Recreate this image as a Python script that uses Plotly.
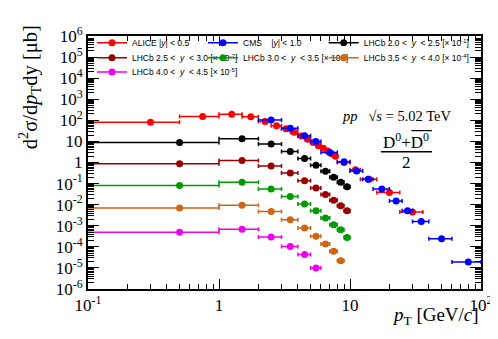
import plotly.graph_objects as go

# ALICE |y|<0.5  (pT bin centre, bin edges, cross section in ub)
alice_pt = [0.3, 0.75, 1.25, 1.75, 2.25, 2.75, 3.25, 3.75, 4.25, 4.75, 5.25,
            5.75, 6.25, 6.75, 7.25, 7.75, 9, 11, 14, 20, 30]
alice_lo = [0, 0.5, 1, 1.5, 2, 2.5, 3, 3.5, 4, 4.5, 5, 5.5, 6, 6.5, 7, 7.5,
            8, 10, 12, 16, 24]
alice_hi = [0.5, 1, 1.5, 2, 2.5, 3, 3.5, 4, 4.5, 5, 5.5, 6, 6.5, 7, 7.5, 8,
            10, 12, 16, 24, 36]
alice_xs = [82, 153, 195, 148, 89, 56, 40, 27.5, 18.2, 12.6, 8.9, 6.3, 4.7,
            3.5, 2.6, 2.0, 1.0, 0.45, 0.16, 0.038, 0.0045]

# CMS |y|<1.0
cms_pt = [2.5, 3.5, 4.5, 5.5, 7, 9, 11.25, 13.75, 17.5, 22.5, 27.5, 35, 50, 80]
cms_lo = [2, 3, 4, 5, 6, 8, 10, 12.5, 15, 20, 25, 30, 40, 60]
cms_hi = [3, 4, 5, 6, 8, 10, 12.5, 15, 20, 25, 30, 40, 60, 100]
cms_xs = [105, 42, 18.6, 10, 3.0, 1.1, 0.40, 0.16, 0.056, 0.015, 0.0051,
          0.0016, 0.00024, 0.000019]

# LHCb rapidity bins, 1 GeV/c wide pT bins starting at 0 (unscaled)
lhcb_pt = [0.5, 1.5, 2.5, 3.5, 4.5, 5.5, 6.5, 7.5, 8.5, 9.5]
lhcb_y20 = [89, 135, 76, 33, 15.5, 7.4, 3.8, 2.0, 1.17, 0.71]
lhcb_y25 = [87, 126, 69, 32, 13.5, 6.2, 3.0, 1.6, 0.89, 0.51]
lhcb_y30 = [81, 115, 56, 24.5, 10.7, 5.1, 2.3, 1.12, 0.65, 0.28]
lhcb_y35 = [69, 93, 48, 19, 7.8, 3.2, 1.35, 0.62, 0.22]
lhcb_y40 = [49, 69, 29, 10.5, 4.3, 1.0]

series = [
    ("ALICE |<i>y</i>| &lt; 0.5", "#ff0000", alice_pt, alice_lo, alice_hi, alice_xs, 1),
    ("CMS    |<i>y</i>| &lt; 1.0", "#0000ff", cms_pt, cms_lo, cms_hi, cms_xs, 1),
    ("LHCb 2.0 &lt;  <i>y</i>  &lt; 2.5 [× 10<sup>-1</sup>]", "#000000",
     lhcb_pt, None, None, lhcb_y20, 1e-1),
    ("LHCb 2.5 &lt;  <i>y</i>  &lt; 3.0 [× 10<sup>-2</sup>]", "#990000",
     lhcb_pt, None, None, lhcb_y25, 1e-2),
    ("LHCb 3.0 &lt;  <i>y</i>  &lt; 3.5 [× 10<sup>-3</sup>]", "#009900",
     lhcb_pt, None, None, lhcb_y30, 1e-3),
    ("LHCb 3.5 &lt;  <i>y</i>  &lt; 4.0 [× 10<sup>-4</sup>]", "#cc6611",
     lhcb_pt, None, None, lhcb_y35, 1e-4),
    ("LHCb 4.0 &lt;  <i>y</i>  &lt; 4.5 [× 10<sup>-5</sup>]", "#ee00ee",
     lhcb_pt, None, None, lhcb_y40, 1e-5),
]

# legend grid: 3 columns x 3 rows (paper coords)
leg_cols = [0.0102, 0.2926, 0.5997]
leg_rows = [0.973, 0.914, 0.858]

fig = go.Figure()
for i, (name, col, pt, lo, hi, xs, scale) in enumerate(series):
    n = len(xs)
    pt = pt[:n]
    if lo is None:
        lo = [p - 0.5 for p in pt]
        hi = [p + 0.5 for p in pt]
    lo = [max(v, 0.01) for v in lo]
    y = [v * scale for v in xs]
    fig.add_trace(go.Scatter(
        x=pt, y=y, mode='markers', showlegend=False,
        marker=dict(color=col, size=7),
        error_x=dict(type='data', symmetric=False,
                     array=[h - p for h, p in zip(hi, pt)],
                     arrayminus=[p - l for p, l in zip(pt, lo)],
                     color=col, thickness=1.5, width=2),
        error_y=dict(type='percent', value=8, color=col, thickness=1.2, width=2)))
    # each legend entry gets its own legend box so it can sit on the grid
    leg = "legend" if i == 0 else "legend%d" % (i + 1)
    fig.add_trace(go.Scatter(
        x=[None], y=[None], mode='lines+markers', name=name, legend=leg,
        marker=dict(color=col, size=7), line=dict(color=col, width=1.5)))
    fig.update_layout({leg: dict(
        x=leg_cols[i % 3], y=leg_rows[i // 3], xanchor='left', yanchor='middle',
        itemwidth=30, bgcolor='rgba(0,0,0,0)', borderwidth=0,
        font=dict(family="Liberation Sans", size=8.5, color='black'))})

minor_x = [m * 10 ** k for k in range(-1, 2) for m in range(2, 10)]
minor_y = [m * 10 ** k for k in range(-6, 6) for m in range(2, 10)]
ytick_vals = [10 ** k for k in range(-6, 7)]
ytick_text = ["10<sup>%d</sup>" % k for k in range(-6, 7)]
ytick_text[6] = "1"
ytick_text[7] = "10"

serif = "Liberation Serif"

fig.update_layout(
    width=498, height=339,
    margin=dict(l=80, r=25, t=28, b=58),
    paper_bgcolor="white", plot_bgcolor="white",
    font=dict(family=serif, color="black", size=17),
    xaxis=dict(
        type='log', range=[-1, 2], showgrid=False, zeroline=False,
        showline=True, linecolor='black', linewidth=2, mirror='allticks',
        ticks='inside', ticklen=10, tickwidth=1, tickcolor='black',
        tickmode='array', tickvals=[0.1, 1, 10, 100],
        ticktext=["10<sup>-1</sup>", "1", "10", "10<sup>2</sup>"],
        minor=dict(ticks='inside', ticklen=5, tickcolor='black',
                   tickvals=minor_x, showgrid=False),
        tickfont=dict(family=serif, size=17)),
    yaxis=dict(
        type='log', range=[-6, 6], showgrid=False, zeroline=False,
        showline=True, linecolor='black', linewidth=2, mirror='allticks',
        ticks='inside', ticklen=11, tickwidth=1, tickcolor='black',
        tickmode='array', tickvals=ytick_vals, ticktext=ytick_text,
        minor=dict(ticks='inside', ticklen=6, tickcolor='black',
                   tickvals=minor_y, showgrid=False),
        tickfont=dict(family=serif, size=17)),
    showlegend=True,
)

fig.add_annotation(
    text="d<sup>2</sup>σ/d<i>p</i><sub>T</sub>dy [μb]", textangle=-90,
    xref='paper', yref='paper', x=-0.148, y=1.05, xanchor='center',
    yanchor='top', showarrow=False, font=dict(family=serif, size=20.5))
fig.add_annotation(
    text="<i>p</i><sub>T</sub> [GeV/<i>c</i>]",
    xref='paper', yref='paper', x=1.0, y=-0.052, xanchor='right',
    yanchor='top', showarrow=False, font=dict(family=serif, size=19))
fig.add_annotation(
    text="<i>pp</i>   √<i>s</i> = 5.02 TeV",
    xref='paper', yref='paper', x=0.929, y=0.684, xanchor='right',
    yanchor='middle', showarrow=False, font=dict(family=serif, size=14.5))
fig.add_annotation(
    text="D<sup>0</sup>+D<sup>0</sup>",
    xref='paper', yref='paper', x=0.81, y=0.584, xanchor='center',
    yanchor='middle', showarrow=False, font=dict(family=serif, size=17))
fig.add_annotation(
    text="2",
    xref='paper', yref='paper', x=0.81, y=0.5, xanchor='center',
    yanchor='middle', showarrow=False, font=dict(family=serif, size=17))
# fraction bar and antiparticle overline
fig.add_shape(type='line', xref='paper', yref='paper',
              x0=0.7455, x1=0.8753, y0=0.5423, y1=0.5423,
              line=dict(color='black', width=1.5))
fig.add_shape(type='line', xref='paper', yref='paper',
              x0=0.8227, x1=0.8753, y0=0.626, y1=0.626,
              line=dict(color='black', width=1.2))

fig.write_html("out.html")
